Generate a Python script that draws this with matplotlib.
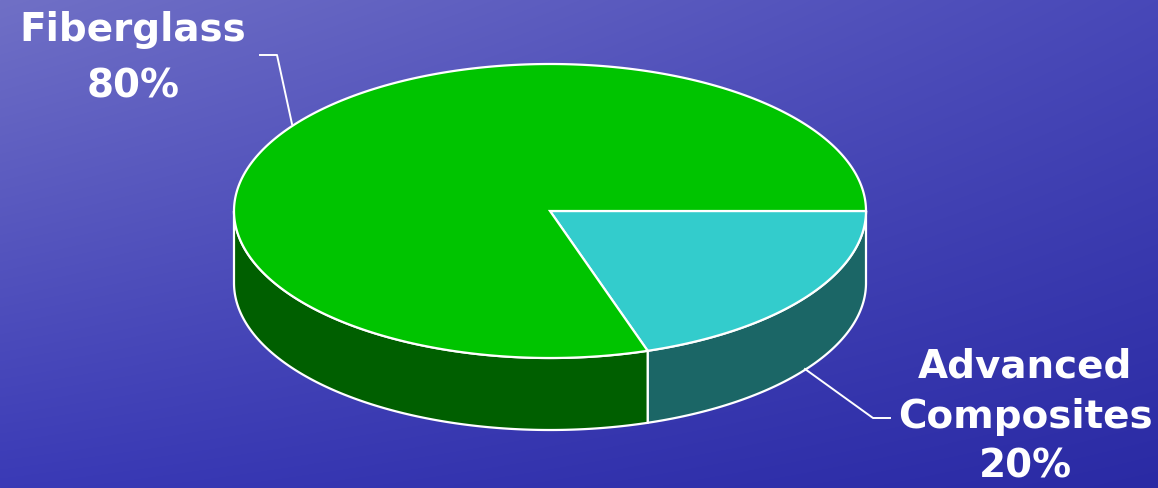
import numpy as np
import matplotlib
matplotlib.use("Agg")
import matplotlib.pyplot as plt
from matplotlib.patches import Polygon

categories = ["Fiberglass", "Advanced Composites"]
values = [80, 20]
labels = ["Fiberglass\n80%", "Advanced\nComposites\n20%"]
top_colors = ["#00C400", "#33CCCC"]
side_colors = ["#005F00", "#1B6666"]

W, H = 1158, 488
fig = plt.figure(figsize=(W / 100, H / 100), dpi=100)
ax = fig.add_axes([0, 0, 1, 1])
ax.set_xlim(0, W)
ax.set_ylim(H, 0)
ax.axis("off")

# background: bilinear colour gradient between corner colours
tl = np.array([112, 112, 198]) / 255
tr = np.array([72, 72, 184]) / 255
bl = np.array([58, 58, 182]) / 255
br = np.array([42, 42, 164]) / 255
u = np.linspace(0, 1, W)[None, :, None]
v = np.linspace(0, 1, H)[:, None, None]
img = (1 - u) * (1 - v) * tl + u * (1 - v) * tr + (1 - u) * v * bl + u * v * br
ax.imshow(img, extent=[0, W, H, 0], aspect="auto", zorder=0)

cx, cy, rx, ry, depth = 550, 211, 316, 147, 72

def pt(t, dy=0):
    return cx + rx * np.cos(t), cy + ry * np.sin(t) + dy

# slices: Advanced Composites from 0 deg clockwise, Fiberglass for the rest
total = sum(values)
order = [1, 0]
start = 0.0
spans = {}
for i in order:
    span = values[i] / total * 2 * np.pi
    spans[i] = (start, start + span)
    start += span

# walls (front half: t in [0, pi])
for i in order:
    a, b = spans[i]
    lo, hi = max(a, 0), min(b, np.pi)
    if hi > lo:
        ts = np.linspace(lo, hi, 200)
        topx, topy = pt(ts)
        botx, boty = pt(ts[::-1], depth)
        poly = np.column_stack([np.concatenate([topx, botx]), np.concatenate([topy, boty])])
        ax.add_patch(Polygon(poly, closed=True, fc=side_colors[i], ec="white", lw=1.6, zorder=2))

# top faces
for i in order:
    a, b = spans[i]
    ts = np.linspace(a, b, 400)
    x, y = pt(ts)
    poly = np.column_stack([np.concatenate([[cx], x]), np.concatenate([[cy], y])])
    ax.add_patch(Polygon(poly, closed=True, fc=top_colors[i], ec="white", lw=1.6, zorder=3, joinstyle="miter"))

font = dict(family=["DejaVu Sans"], weight="bold", color="white", fontsize=28)

# Fiberglass label + leader
ax.text(133, 58, labels[0], ha="center", va="center", linespacing=1.62, **font, zorder=4)
ax.plot([260, 277, 292], [55, 55, 124], color="white", lw=1.4, zorder=4)

# Advanced Composites label + leader
ax.text(1025, 417, labels[1], ha="center", va="center", linespacing=1.4, **font, zorder=4)
ax.plot([805, 873, 890], [369, 418, 418], color="white", lw=1.4, zorder=4)

fig.savefig("out.png", dpi=100)
